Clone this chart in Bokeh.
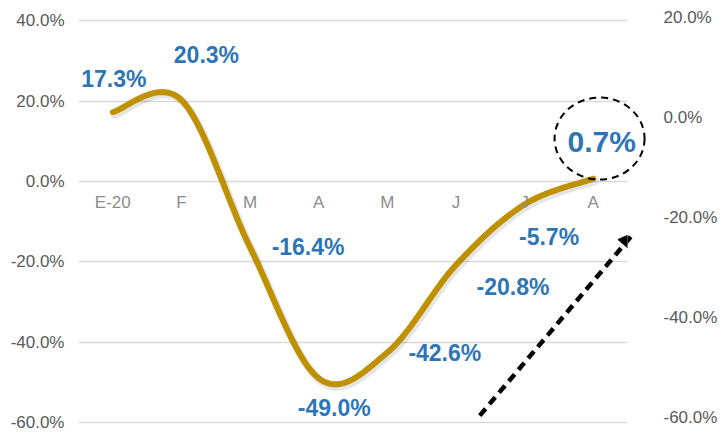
import numpy as np
from bokeh.plotting import figure
from bokeh.models import (Range1d, LinearAxis, PrintfTickFormatter, FixedTicker,
                          ColumnDataSource, Arrow, NormalHead)
from bokeh.core.properties import value
from bokeh.embed import file_html
from bokeh.resources import INLINE

# ---- data ----
categories = ["E-20", "F", "M", "A", "M", "J", "J", "A"]
values = [17.3, 20.3, -16.4, -49.0, -42.6, -20.8, -5.7, 0.7]
value_labels = ["17.3%", "20.3%", "-16.4%", "-49.0%", "-42.6%", "-20.8%", "-5.7%", "0.7%"]
left_ticks = [-60, -40, -20, 0, 20, 40]
right_ticks = [-60, -40, -20, 0, 20]

# label placement (screen px offsets) and sizes
label_dx = [1, 25, 58, 15.5, 57.5, 57, 24.5, 8.5]
label_dy = [-33.5, -45.5, 0, 29.5, 0, 21.5, 33, -37]
label_size = ["23px"] * 7 + ["30px"]

FONT = "Liberation Sans"
GOLD = "#BF9000"
BLUE = "#2E75B6"

xs = np.arange(len(values), dtype=float)
ys = np.array(values, dtype=float)

# Smoothed curve (Catmull-Rom style Bezier, like spreadsheet smoothing)
def smooth(px, py, n=40):
    outx, outy = [], []
    N = len(px)
    for i in range(N - 1):
        p0 = (px[max(i - 1, 0)], py[max(i - 1, 0)])
        p1 = (px[i], py[i])
        p2 = (px[i + 1], py[i + 1])
        p3 = (px[min(i + 2, N - 1)], py[min(i + 2, N - 1)])
        c1 = (p1[0] + (p2[0] - p0[0]) / 6, p1[1] + (p2[1] - p0[1]) / 6)
        c2 = (p2[0] - (p3[0] - p1[0]) / 6, p2[1] - (p3[1] - p1[1]) / 6)
        t = np.linspace(0, 1, n, endpoint=(i == N - 2))
        a = (1 - t) ** 3
        b = 3 * (1 - t) ** 2 * t
        c = 3 * (1 - t) * t ** 2
        d = t ** 3
        outx.extend(a * p1[0] + b * c1[0] + c * c2[0] + d * p2[0])
        outy.extend(a * p1[1] + b * c1[1] + c * c2[1] + d * p2[1])
    return np.array(outx), np.array(outy)

sx, sy = smooth(xs, ys)

p = figure(width=721, height=432, output_backend="svg", toolbar_location=None,
           x_range=Range1d(-0.5, 7.5), y_range=Range1d(-60.27, 41.1),
           min_border_left=78, min_border_right=94, min_border_top=16,
           min_border_bottom=9)
p.outline_line_color = None
p.background_fill_color = "white"
p.border_fill_color = "white"

p.xaxis.visible = False
p.xgrid.visible = False
p.ygrid.ticker = FixedTicker(ticks=left_ticks)
p.ygrid.grid_line_color = "#D9D9D9"
p.ygrid.grid_line_width = 1.3

ya = p.yaxis[0]
ya.ticker = FixedTicker(ticks=left_ticks)
ya.formatter = PrintfTickFormatter(format="%.1f%%")
ya.axis_line_color = None
ya.major_tick_line_color = None
ya.minor_tick_line_color = None
ya.major_tick_out = 0
ya.major_label_standoff = 14
ya.major_label_text_font = FONT
ya.major_label_text_font_size = "17px"
ya.major_label_text_color = "#595959"

p.extra_y_ranges = {"right": Range1d(-61.26, 20.14)}
ra = LinearAxis(y_range_name="right", ticker=FixedTicker(ticks=right_ticks),
                formatter=PrintfTickFormatter(format="%.1f%%"))
ra.axis_line_color = None
ra.major_tick_line_color = None
ra.minor_tick_line_color = None
ra.major_tick_out = 0
ra.major_label_standoff = 36
ra.major_label_text_align = "right"
ra.major_label_text_font = FONT
ra.major_label_text_font_size = "17px"
ra.major_label_text_color = "#595959"
p.add_layout(ra, "right")

# shadow + line
p.line(sx + 0.025, sy - 0.6, line_color="#000000", line_alpha=0.10, line_width=8,
       line_join="round", line_cap="round")
p.line(sx, sy, line_color=GOLD, line_width=6, line_join="round", line_cap="round")

# category labels at the zero line
cat_src = ColumnDataSource(dict(x=xs, y=np.zeros(len(xs)), t=categories))
p.text(x="x", y="y", text="t", source=cat_src, text_align="center",
       text_baseline="middle", y_offset=21, text_font=value(FONT),
       text_font_size="17px", text_color="#8C8C8C")

# value labels (not clipped to the frame)
lab_src = ColumnDataSource(dict(x=xs, y=ys, t=value_labels, dx=label_dx,
                                dy=label_dy, fs=label_size))
labs = p.text(x="x", y="y", text="t", source=lab_src, x_offset="dx", y_offset="dy",
              text_align="center", text_baseline="middle", text_font=value(FONT),
              text_font_style="bold", text_font_size="fs", text_color=BLUE)
labs.level = "annotation"

# dashed highlight ellipse around the last value (not clipped to the frame)
ell = p.ellipse(x=[xs[-1] + 0.093], y=[ys[-1] + 10.0], width=90, height=82,
                width_units="screen", height_units="screen", fill_color=None,
                line_color="black", line_width=2, line_dash="7 5")
ell.level = "annotation"

# dashed arrow
arrow_start = (5.347, -58.3)
arrow_end = (7.60, -12.7)
p.add_layout(Arrow(end=NormalHead(size=16, fill_color="black", line_color="black"),
                   x_start=arrow_start[0], y_start=arrow_start[1],
                   x_end=arrow_end[0], y_end=arrow_end[1],
                   line_color="black", line_width=4.5, line_dash="9 6"))

open("out.html", "w").write(file_html(p, INLINE))
